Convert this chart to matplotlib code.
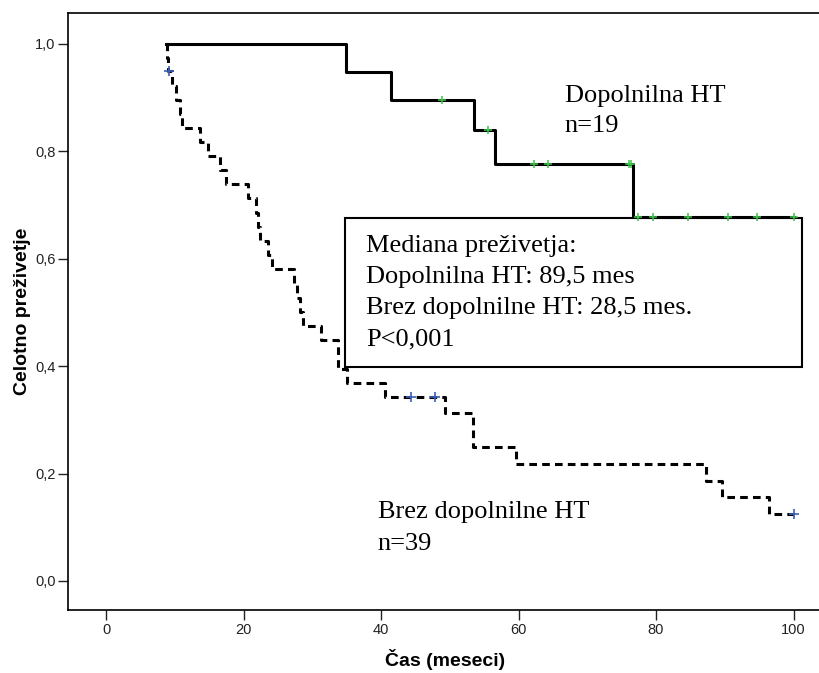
import matplotlib
matplotlib.use("Agg")
import matplotlib.pyplot as plt
from matplotlib.patches import Rectangle

# Kaplan-Meier curves (time in months, survival)
dop_times = [8.7, 34.9, 41.4, 53.5, 56.6, 76.6, 100.0]
dop_surv = [1.0, 0.947, 0.895, 0.839, 0.776, 0.678, 0.678]
dop_cens_t = [48.8, 55.6, 62.3, 64.3, 76.1, 76.4, 77.4, 79.6, 84.6, 90.4, 94.7, 100.0]
dop_cens_s = [0.895, 0.839, 0.776, 0.776, 0.776, 0.776, 0.678, 0.678, 0.678, 0.678, 0.678, 0.678]

brez_times = [8.7, 8.8, 9.0, 9.6, 10.2, 10.8, 11.1, 13.7, 14.8, 16.6, 17.4,
              20.7, 21.8, 22.1, 22.4, 23.5, 24.2, 27.3, 27.8, 28.2, 28.6,
              31.2, 33.7, 35.0, 40.5, 49.3, 53.3, 59.6, 87.2, 89.6, 96.5, 100.0]
brez_surv = [1.0, 0.974, 0.949, 0.922, 0.896, 0.870, 0.843, 0.817, 0.791, 0.764, 0.738,
             0.712, 0.685, 0.659, 0.633, 0.606, 0.580, 0.554, 0.527, 0.501, 0.475,
             0.448, 0.395, 0.369, 0.343, 0.312, 0.250, 0.218, 0.187, 0.156, 0.125, 0.125]
brez_cens_t = [9.2, 44.4, 47.8, 100.0]
brez_cens_s = [0.949, 0.343, 0.343, 0.125]

x_ticks = [0, 20, 40, 60, 80, 100]
y_ticks = [0.0, 0.2, 0.4, 0.6, 0.8, 1.0]
y_ticklabels = ["0,0", "0,2", "0,4", "0,6", "0,8", "1,0"]

box_lines = ["Mediana preživetja:", "Dopolnilna HT: 89,5 mes",
             "Brez dopolnilne HT: 28,5 mes.", "P<0,001"]

fig = plt.figure(figsize=(8.2, 6.73), dpi=100)
ax = fig.add_axes([0.0829, 0.0936, 0.92, 0.887])

ax.step(brez_times, brez_surv, where="post", color="black", lw=2.2,
        linestyle=(0, (2.5, 1.7)), zorder=3)
ax.step(dop_times, dop_surv, where="post", color="black", lw=2.2, zorder=4)
ax.plot(dop_cens_t, dop_cens_s, "+", color="#3cc24a", ms=6, mew=1.1, zorder=5)
ax.plot(brez_cens_t, brez_cens_s, "+", color="#3b5fb5", ms=6.5, mew=1.2, zorder=5)

# median box
ax.add_patch(Rectangle((34.7, 0.398), 66.6, 0.277, facecolor="white",
                       edgecolor="black", lw=1.5, zorder=2))
serif = "Liberation Serif"
box_y = [0.612, 0.555, 0.497, 0.439]
for line, yy in zip(box_lines, box_y):
    ax.text(37.8, yy, line, fontsize=19, family=serif, va="baseline", zorder=6)

ax.text(66.7, 0.892, "Dopolnilna HT", fontsize=19, family=serif, va="baseline")
ax.text(66.7, 0.836, "n=19", fontsize=19, family=serif, va="baseline")
ax.text(39.5, 0.118, "Brez dopolnilne HT", fontsize=19, family=serif, va="baseline")
ax.text(39.5, 0.058, "n=39", fontsize=19, family=serif, va="baseline")

ax.set_xlim(-5.55, 104.2)
ax.set_ylim(-0.054, 1.057)
ax.set_xticks(x_ticks)
ax.set_yticks(y_ticks)
ax.set_yticklabels(y_ticklabels)
ax.tick_params(length=7, width=1, labelsize=10.5, pad=2, colors="#222222")
ax.spines["right"].set_visible(False)
for s in ["left", "bottom", "top"]:
    ax.spines[s].set_linewidth(1.2)

ax.set_xlabel("Čas (meseci)", fontsize=14, fontweight="bold",
              family="Liberation Sans", labelpad=9)
ax.set_ylabel("Celotno preživetje", fontsize=14, fontweight="bold",
              family="Liberation Sans", labelpad=3)
for lab in ax.get_xticklabels() + ax.get_yticklabels():
    lab.set_family("Liberation Sans")

fig.savefig("out.png", dpi=100)
